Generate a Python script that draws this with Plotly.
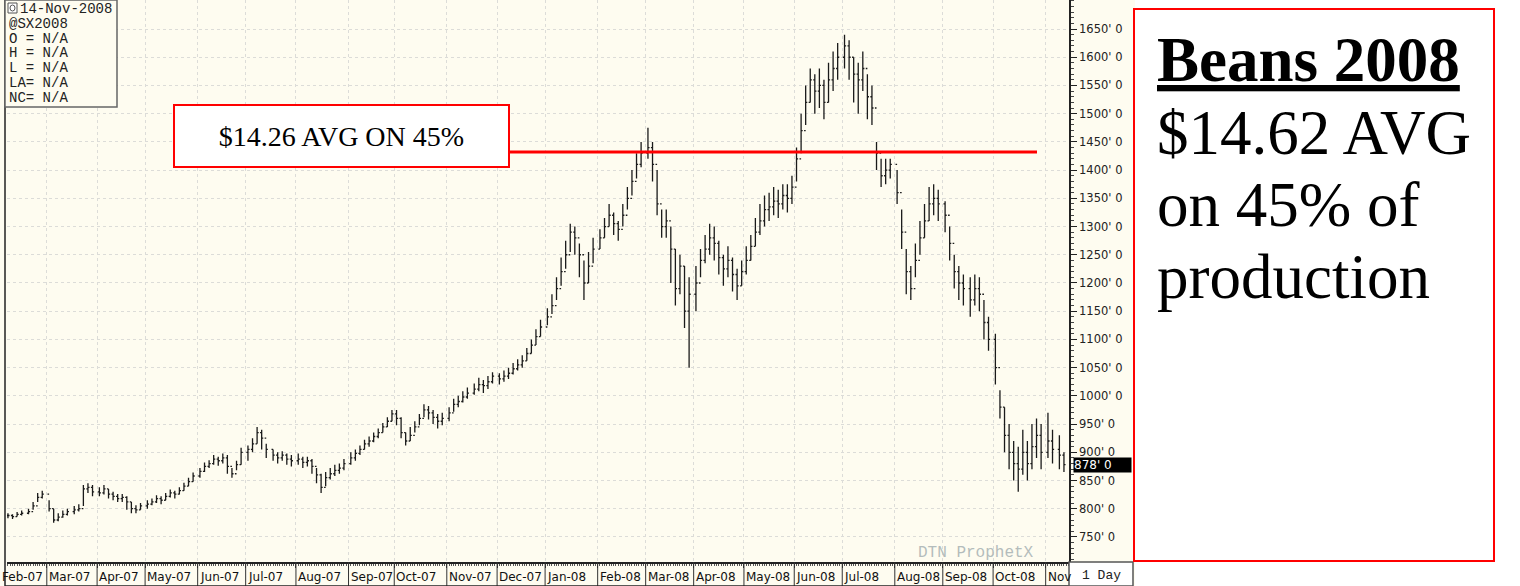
import numpy as np
import pandas as pd
import plotly.graph_objects as go

# ---------------- data ----------------
month_keys = ["2007-02", "2007-03", "2007-04", "2007-05", "2007-06", "2007-07",
              "2007-08", "2007-09", "2007-10", "2007-11", "2007-12", "2008-01",
              "2008-02", "2008-03", "2008-04", "2008-05", "2008-06", "2008-07",
              "2008-08", "2008-09", "2008-10", "2008-11"]

highs = [
    [792, 790, 794, 797, 800, 812, 828, 832],
    [815, 800, 792, 797, 800, 805, 808, 842, 845, 842],
    [838, 842, 835, 830, 826, 826, 822, 812, 806, 810],
    [815, 818, 824, 822, 828, 834, 832, 838, 846, 855, 864],
    [872, 882, 886, 895, 892, 898, 895, 872, 885, 908],
    [912, 925, 945, 940, 915, 905, 900, 902, 898, 895],
    [898, 892, 892, 888, 872, 862, 865, 872, 878, 880, 888],
    [900, 905, 912, 922, 928, 935, 942, 952, 962, 975],
    [975, 962, 935, 945, 955, 968, 985, 982, 975, 968, 970],
    [980, 995, 1000, 1008, 1015, 1022, 1032, 1028, 1035, 1042],
    [1040, 1045, 1050, 1058, 1065, 1072, 1085, 1100, 1118, 1135],
    [1155, 1180, 1210, 1245, 1275, 1305, 1300, 1270, 1240, 1255, 1280],
    [1295, 1315, 1340, 1325, 1310, 1340, 1370, 1400, 1430, 1450],
    [1475, 1450, 1400, 1330, 1330, 1300, 1260, 1250, 1230, 1210],
    [1230, 1260, 1285, 1305, 1300, 1275, 1250, 1265, 1245, 1225, 1240],
    [1265, 1285, 1315, 1340, 1355, 1360, 1370, 1365, 1375, 1375, 1390],
    [1440, 1500, 1550, 1580, 1570, 1580, 1560, 1590, 1610, 1625],
    [1640, 1630, 1600, 1590, 1610, 1570, 1550, 1450, 1420, 1420, 1420],
    [1400, 1330, 1260, 1230, 1270, 1310, 1340, 1370, 1375, 1365],
    [1345, 1300, 1250, 1230, 1215, 1210, 1215, 1210, 1170, 1140],
    [1110, 1010, 980, 950, 920, 910, 940, 920, 950, 960, 950],
    [970, 940, 930, 900],
]
lows = [
    [783, 782, 786, 788, 790, 798, 812, 818],
    [795, 775, 778, 784, 788, 790, 795, 805, 828, 822],
    [822, 825, 818, 815, 812, 812, 798, 792, 792, 798],
    [800, 806, 810, 808, 815, 820, 818, 825, 832, 840, 848],
    [855, 865, 872, 878, 876, 880, 862, 855, 868, 878],
    [885, 900, 915, 905, 890, 885, 880, 885, 878, 875],
    [878, 872, 875, 862, 845, 828, 840, 852, 858, 862, 868],
    [878, 885, 895, 905, 910, 918, 925, 935, 945, 955],
    [948, 925, 912, 920, 935, 948, 962, 958, 950, 942, 948],
    [955, 972, 980, 988, 995, 1002, 1008, 1005, 1012, 1022],
    [1020, 1025, 1030, 1038, 1045, 1050, 1062, 1075, 1090, 1105],
    [1125, 1145, 1170, 1195, 1225, 1255, 1250, 1210, 1170, 1200, 1235],
    [1260, 1280, 1300, 1285, 1275, 1300, 1330, 1355, 1385, 1405],
    [1420, 1380, 1320, 1280, 1280, 1200, 1160, 1180, 1120, 1050],
    [1150, 1210, 1235, 1250, 1240, 1215, 1195, 1210, 1185, 1170, 1195],
    [1215, 1240, 1265, 1285, 1300, 1310, 1320, 1315, 1330, 1325, 1340],
    [1380, 1430, 1480, 1520, 1500, 1510, 1490, 1520, 1540, 1560],
    [1580, 1560, 1520, 1500, 1540, 1490, 1480, 1400, 1370, 1375, 1385],
    [1340, 1260, 1180, 1170, 1210, 1250, 1280, 1310, 1320, 1310],
    [1290, 1240, 1190, 1170, 1160, 1140, 1160, 1150, 1100, 1080],
    [1020, 960, 900, 870, 850, 830, 860, 850, 870, 890, 870],
    [890, 880, 870, 865],
]
closes = [
    [788, 786, 790, 792, 795, 805, 820, 826],
    [800, 780, 785, 790, 795, 798, 800, 835, 838, 830],
    [828, 835, 826, 822, 818, 820, 812, 800, 798, 805],
    [808, 812, 818, 815, 822, 828, 826, 832, 840, 848, 858],
    [866, 875, 880, 888, 885, 890, 875, 862, 878, 900],
    [905, 915, 935, 925, 905, 895, 890, 895, 888, 885],
    [888, 882, 885, 875, 860, 838, 855, 862, 868, 872, 880],
    [890, 898, 905, 915, 920, 928, 935, 945, 955, 968],
    [960, 935, 920, 930, 945, 960, 975, 970, 962, 955, 960],
    [970, 985, 990, 998, 1005, 1012, 1020, 1018, 1025, 1035],
    [1030, 1035, 1040, 1048, 1055, 1062, 1075, 1090, 1105, 1122],
    [1140, 1160, 1190, 1220, 1250, 1290, 1280, 1250, 1200, 1230, 1260],
    [1280, 1300, 1320, 1305, 1295, 1320, 1350, 1380, 1410, 1430],
    [1440, 1410, 1340, 1300, 1310, 1260, 1190, 1230, 1150, 1180],
    [1200, 1240, 1260, 1280, 1270, 1245, 1225, 1240, 1215, 1195, 1220],
    [1240, 1265, 1290, 1310, 1330, 1335, 1345, 1340, 1355, 1350, 1370],
    [1420, 1470, 1520, 1560, 1540, 1550, 1520, 1560, 1580, 1600],
    [1620, 1600, 1570, 1560, 1580, 1530, 1510, 1430, 1390, 1400, 1410],
    [1360, 1290, 1220, 1190, 1240, 1280, 1310, 1340, 1350, 1340],
    [1320, 1270, 1220, 1200, 1190, 1170, 1190, 1180, 1130, 1100],
    [1050, 980, 930, 900, 880, 870, 900, 880, 910, 930, 900],
    [920, 905, 895, 878],
]

month_labels = ["Feb-07", "Mar-07", "Apr-07", "May-07", "Jun-07", "Jul-07", "Aug-07",
                "Sep-07", "Oct-07", "Nov-07", "Dec-07", "Jan-08", "Feb-08", "Mar-08",
                "Apr-08", "May-08", "Jun-08", "Jul-08", "Aug-08", "Sep-08", "Oct-08", "Nov"]
y_ticks = list(range(750, 1651, 50))
last_price = 878
avg_level = 1432
info_lines = ["14-Nov-2008", "@SX2008", "O = N/A", "H = N/A", "L = N/A", "LA= N/A", "NC= N/A"]
box_label = "$14.26 AVG ON 45%"
side_lines = ["$14.62 AVG", "on 45% of", "production"]
side_title = "Beans 2008"

first_day = pd.Timestamp("2007-02-05")
last_day = pd.Timestamp("2008-11-14")

# ---------------- build bar dates ----------------
dates, hi, lo, cl = [], [], [], []
for mk, h, l, c in zip(month_keys, highs, lows, closes):
    p = pd.Period(mk, "M")
    bd = pd.bdate_range(max(p.start_time, first_day), min(p.end_time.normalize(), last_day))
    n = len(h)
    idx = ((np.arange(n) + 0.5) * len(bd) / n).astype(int)
    dates += list(bd[idx])
    hi += h
    lo += l
    cl += c
op = [cl[0]] + cl[:-1]

# ---------------- geometry helpers ----------------
W, H = 1520, 586
L_M, R_M, T_M, B_M = 7, 1520 - 1069, 0, 586 - 562
PW, PH = W - L_M - R_M, H - T_M - B_M


def px(xp):
    return (xp - L_M) / PW


def py(yp):
    return (H - B_M - yp) / PH


ivory = "#FEFCF0"
axis_font = "DejaVu Sans"

fig = go.Figure()
fig.add_trace(go.Ohlc(
    x=dates, open=op, high=hi, low=lo, close=cl,
    increasing=dict(line=dict(color="#1a1a1a", width=1.3)),
    decreasing=dict(line=dict(color="#1a1a1a", width=1.3)),
    tickwidth=0.35, hoverinfo="skip", showlegend=False,
))

# month separators in the date band
month_starts = [pd.bdate_range(pd.Period(mk, "M").start_time, periods=1)[0] for mk in month_keys[1:]]
shapes = []
for ms in month_starts:
    shapes.append(dict(type="line", xref="x", yref="paper", x0=ms, x1=ms,
                       y0=py(586), y1=py(562), line=dict(color="#333333", width=1)))

# left frame line
shapes.append(dict(type="line", xref="paper", yref="paper", x0=px(5), x1=px(5),
                   y0=py(586), y1=py(0), line=dict(color="#222222", width=1.5)))
# bottom band line
shapes.append(dict(type="line", xref="paper", yref="paper", x0=px(5), x1=px(1133),
                   y0=py(586), y1=py(586), line=dict(color="#222222", width=1.5)))
# info box
shapes.append(dict(type="rect", xref="paper", yref="paper", x0=px(5), x1=px(117),
                   y0=py(107), y1=py(0), fillcolor=ivory, line=dict(color="#666666", width=1.5)))
shapes.append(dict(type="rect", xref="paper", yref="paper", x0=px(8), x1=px(17),
                   y0=py(13), y1=py(3), fillcolor="#ffffff", line=dict(color="#555555", width=1)))
shapes.append(dict(type="circle", xref="paper", yref="paper", x0=px(10), x1=px(15),
                   y0=py(11), y1=py(5), line=dict(color="#555555", width=1)))
# "1 Day" box
shapes.append(dict(type="rect", xref="paper", yref="paper", x0=px(1069), x1=px(1133),
                   y0=py(586), y1=py(562), fillcolor="#ffffff", line=dict(color="#555555", width=1.5)))
# white area on the right
shapes.append(dict(type="rect", xref="paper", yref="paper", x0=px(1135), x1=px(1521),
                   y0=py(587), y1=py(-1), fillcolor="#ffffff", line=dict(width=0)))
# red framed text panel
shapes.append(dict(type="rect", xref="paper", yref="paper", x0=px(1134), x1=px(1494),
                   y0=py(561), y1=py(9), fillcolor="#ffffff", line=dict(color="#ff0000", width=2)))
# red average line
shapes.append(dict(type="line", xref="paper", yref="y", x0=px(510), x1=px(1037),
                   y0=avg_level, y1=avg_level, line=dict(color="#ff0000", width=3)))

annotations = []
# month labels, left-aligned after each separator
annotations.append(dict(xref="paper", yref="paper", x=px(45), y=py(577), xanchor="right", yanchor="middle",
                        showarrow=False, text=month_labels[0],
                        font=dict(family=axis_font, size=12, color="#111111")))
for ms, lab in zip(month_starts, month_labels[1:]):
    annotations.append(dict(xref="x", yref="paper", x=ms, y=py(577), xanchor="left", yanchor="middle",
                            xshift=0, showarrow=False, text=lab,
                            font=dict(family=axis_font, size=12, color="#111111")))
for i, t in enumerate(info_lines):
    annotations.append(dict(xref="paper", yref="paper", x=px(18 if i == 0 else 7), y=py(9 + i * 14.8),
                            xanchor="left", yanchor="middle", showarrow=False, text=t,
                            font=dict(family="Liberation Mono", size=14, color="#222222")))
annotations.append(dict(xref="paper", yref="paper", x=px(173), y=py(104), xanchor="left", yanchor="top",
                        showarrow=False, text=box_label, width=333, height=60, align="center",
                        bgcolor="#ffffff", bordercolor="#ff0000", borderwidth=2, borderpad=0,
                        font=dict(family="Liberation Serif", size=28, color="#000000")))
annotations.append(dict(xref="paper", yref="y", x=px(1073), y=last_price, xanchor="left", yanchor="middle",
                        showarrow=False, text="%d' 0" % last_price, width=57, align="left",
                        bgcolor="#000000", borderpad=0,
                        font=dict(family=axis_font, size=12, color="#ffffff")))
annotations.append(dict(xref="paper", yref="paper", x=px(1101), y=py(575), xanchor="center", yanchor="middle",
                        showarrow=False, text="1 Day",
                        font=dict(family="Liberation Mono", size=13, color="#222222")))
annotations.append(dict(xref="paper", yref="paper", x=px(1036), y=py(553), xanchor="right", yanchor="middle",
                        showarrow=False, text="DTN ProphetX",
                        font=dict(family="Liberation Mono", size=16, color="#b4bcbc")))
annotations.append(dict(xref="paper", yref="paper", x=px(1155), y=py(60), xanchor="left", yanchor="middle",
                        showarrow=False, text="<b><u>%s</u></b>" % side_title,
                        font=dict(family="Liberation Serif", size=63, color="#000000")))
for i, t in enumerate(side_lines):
    annotations.append(dict(xref="paper", yref="paper", x=px(1155), y=py(133 + 72 * i), xanchor="left",
                            yanchor="middle", showarrow=False, text=t,
                            font=dict(family="Liberation Serif", size=63, color="#000000")))

fig.update_layout(
    width=W, height=H, margin=dict(l=L_M, r=R_M, t=T_M, b=B_M, pad=0),
    paper_bgcolor=ivory, plot_bgcolor=ivory,
    shapes=shapes, annotations=annotations, showlegend=False,
    xaxis=dict(
        type="date", rangeslider=dict(visible=False),
        rangebreaks=[dict(bounds=["sat", "mon"])],
        range=["2007-02-05 14:00", "2008-11-17 05:00"],
        dtick="M1", showticklabels=False,
        showgrid=True, gridcolor="#dcdcd8", griddash="3px,3px", gridwidth=1,
        ticks="outside", ticklen=4, tickcolor="#333333",
        minor=dict(dtick=86400000, ticks="outside", ticklen=2, tickcolor="#555555", showgrid=False),
        showline=True, linecolor="#222222", linewidth=1.5,
        zeroline=False, fixedrange=True,
    ),
    yaxis=dict(
        side="right", range=[705.6, 1701.4],
        tickvals=y_ticks, ticktext=["%d' 0" % v for v in y_ticks],
        showgrid=True, gridcolor="#dcdcd8", griddash="3px,3px", gridwidth=1,
        ticks="outside", ticklen=6, tickcolor="#222222",
        minor=dict(dtick=10, ticks="outside", ticklen=3, tickcolor="#444444", showgrid=False),
        showline=True, linecolor="#222222", linewidth=1.5,
        tickfont=dict(family=axis_font, size=11.5, color="#222222"),
        zeroline=False, fixedrange=True,
    ),
)

fig.write_html("out.html")
